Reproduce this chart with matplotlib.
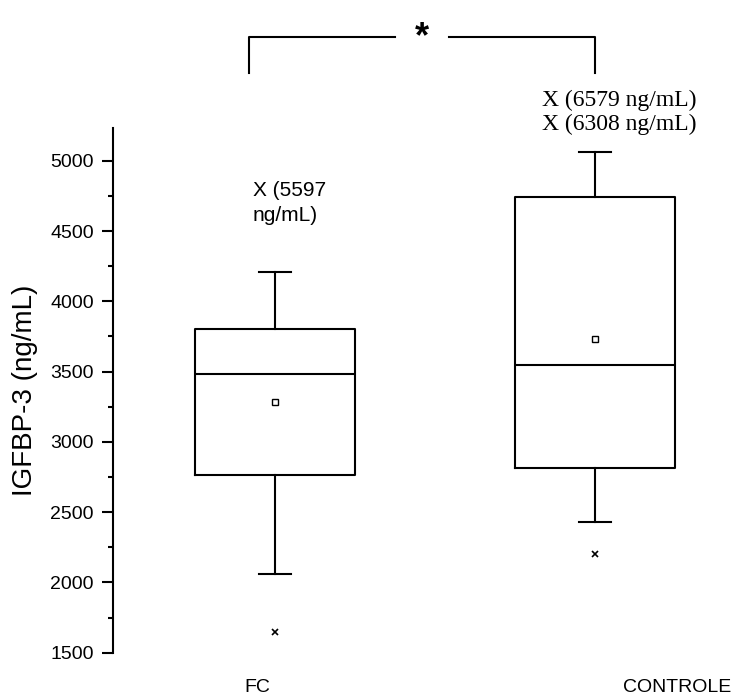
import matplotlib
matplotlib.use("Agg")
import matplotlib.pyplot as plt
from matplotlib.ticker import MultipleLocator

plt.rcParams['font.family'] = ['Liberation Sans', 'DejaVu Sans']

# Box plot values (ng/mL)
groups = ["FC", "CONTROLE"]
whisker_low = [2060, 2430]
q1 = [2765, 2815]
medians = [3485, 3545]
q3 = [3805, 4745]
whisker_high = [4210, 5065]
means = [3285, 3735]
outliers = [[1650], [2205]]

# extreme values written as text above the boxes
fc_note = "X (5597\nng/mL)"
ctrl_note = "X (6579 ng/mL)\nX (6308 ng/mL)"

stats = []
for i in range(len(groups)):
    stats.append({
        "whislo": whisker_low[i], "q1": q1[i], "med": medians[i],
        "q3": q3[i], "whishi": whisker_high[i], "mean": means[i],
        "fliers": outliers[i], "label": groups[i],
    })

fig = plt.figure(figsize=(7.35, 6.99), dpi=100)
ax = fig.add_axes([0.1533, 0.0662, 0.8263, 0.7507])

lw = 1.5
ax.bxp(stats, positions=[1, 2], widths=0.5, capwidths=0.1,
       showmeans=True, showfliers=True,
       boxprops=dict(color="black", linewidth=lw),
       medianprops=dict(color="black", linewidth=lw),
       whiskerprops=dict(color="black", linewidth=lw),
       capprops=dict(color="black", linewidth=lw),
       meanprops=dict(marker="s", markerfacecolor="white",
                      markeredgecolor="black", markersize=5, markeredgewidth=1),
       flierprops=dict(marker="x", markeredgecolor="black",
                       markersize=5, markeredgewidth=1.2))

ax.set_xlim(0.493, 2.39)
ax.set_ylim(1500, 5233)

for s in ["top", "right", "bottom"]:
    ax.spines[s].set_visible(False)
ax.spines["left"].set_linewidth(1.5)

ax.yaxis.set_major_locator(MultipleLocator(500))
ax.yaxis.set_minor_locator(MultipleLocator(250))
ax.tick_params(axis="y", which="major", length=8, width=1.5, pad=5.5,
               labelsize=14)
ax.tick_params(axis="y", which="minor", length=3.6, width=1.5)

# category labels sit offset from box centres in the original
ax.set_xticks([0.944, 2.255], groups)
ax.tick_params(axis="x", length=0, pad=19, labelsize=14)

ax.set_ylabel("IGFBP-3 (ng/mL)", fontsize=20, labelpad=9)

ax.text(0.93, 4700, fc_note, fontsize=15, ha="left", va="center",
        linespacing=1.45)
ax.text(1.833, 5343, ctrl_note, fontsize=17, ha="left", va="center",
        family=["Liberation Serif", "DejaVu Serif"], linespacing=1.15)

# significance bracket
br_top = 5878
br_foot = 5622
ax.plot([0.92, 0.92, 1.375], [br_foot, br_top, br_top], color="black",
        linewidth=1.5, clip_on=False)
ax.plot([1.544, 2.0, 2.0], [br_top, br_top, br_foot], color="black",
        linewidth=1.5, clip_on=False)
ax.text(1.46, br_top, "*", fontsize=26, fontweight="bold",
        ha="center", va="center")

fig.savefig("out.png", dpi=100)
